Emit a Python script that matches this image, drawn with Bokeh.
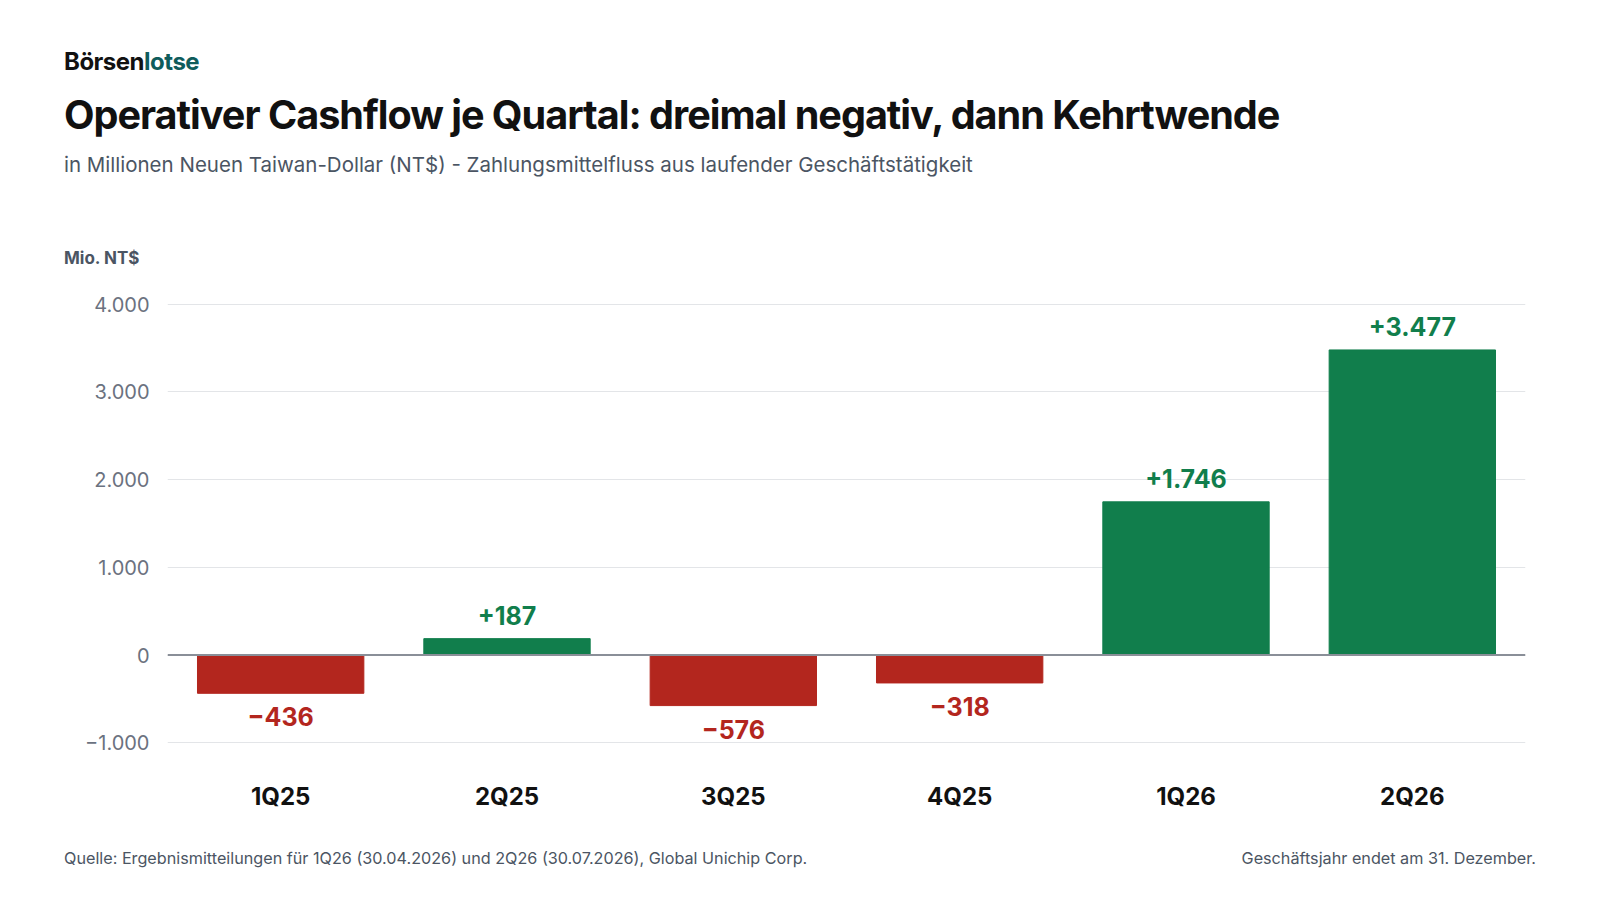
from bokeh.plotting import figure
from bokeh.models import Div, Span, ColumnDataSource, FixedTicker
from bokeh.layouts import column
from bokeh.core.properties import value
from bokeh.embed import file_html
from bokeh.resources import INLINE

quarters = ["1Q25", "2Q25", "3Q25", "4Q25", "1Q26", "2Q26"]
cashflow = [-436, 187, -576, -318, 1746, 3477]
labels = ["\u2212436", "+187", "\u2212576", "\u2212318", "+1.746", "+3.477"]
yticks = [-1000, 0, 1000, 2000, 3000, 4000]
ytick_labels = ["\u22121.000", "0", "1.000", "2.000", "3.000", "4.000"]

RED = "#b3261e"
GREEN = "#117e4c"
FONT = "Inter"

colors = [GREEN if v >= 0 else RED for v in cashflow]
offsets = [-14 if v >= 0 else 14 for v in cashflow]
baselines = ["bottom" if v >= 0 else "top" for v in cashflow]
src = ColumnDataSource(dict(q=quarters, v=cashflow, c=colors, t=labels, off=offsets, bl=baselines))

header = Div(width=1584, height=262, text=f"""
<div style="position:relative;width:1584px;height:262px;font-family:{FONT};">
 <div style="position:absolute;left:59px;top:40px;font-size:24px;font-weight:700;color:#111;letter-spacing:-0.5px;">Börsen<span style="color:#0f5c5c;">lotse</span></div>
 <div style="position:absolute;left:59px;top:82px;font-size:39.6px;font-weight:700;color:#111;letter-spacing:-1px;white-space:nowrap;">Operativer Cashflow je Quartal: dreimal negativ, dann Kehrtwende</div>
 <div style="position:absolute;left:59px;top:145px;font-size:20.5px;color:#4b5563;white-space:nowrap;">in Millionen Neuen Taiwan-Dollar (NT$) - Zahlungsmittelfluss aus laufender Geschäftstätigkeit</div>
 <div style="position:absolute;left:59px;top:241px;font-size:17px;font-weight:700;color:#4b5563;">Mio. NT$</div>
</div>""")

p = figure(x_range=quarters, y_range=(-1350, 4200), width=1584, height=561,
           output_backend="svg", toolbar_location=None,
           min_border_left=167, min_border_right=59, min_border_top=14, min_border_bottom=60)
p.outline_line_color = None
p.vbar(x="q", top="v", width=0.735, color="c", source=src)
p.text(x="q", y="v", text="t", text_color="c", y_offset="off", text_baseline="bl",
       text_align="center", text_font=value(FONT), text_font_size="25px",
       text_font_style="bold", source=src)
p.add_layout(Span(location=0, dimension="width", line_color="#8a8f98", line_width=2))

p.xgrid.grid_line_color = None
p.ygrid.grid_line_color = "#e3e5e8"
p.ygrid.ticker = FixedTicker(ticks=yticks)
p.yaxis.ticker = FixedTicker(ticks=yticks)
p.yaxis.major_label_overrides = dict(zip(yticks, ytick_labels))
for ax in (p.xaxis, p.yaxis):
    ax.axis_line_color = None
    ax.major_tick_line_color = None
    ax.minor_tick_line_color = None
    ax.major_label_text_font = FONT
p.yaxis.major_label_text_font_size = "20px"
p.yaxis.major_label_text_color = "#6b7280"
p.yaxis.major_label_standoff = 12
p.xaxis.major_label_text_font_size = "24px"
p.xaxis.major_label_text_font_style = "bold"
p.xaxis.major_label_text_color = "#111"
p.xaxis.major_label_standoff = 2

footer = Div(width=1584, height=50, text=f"""
<div style="position:relative;width:1584px;height:50px;font-family:{FONT};font-size:16.2px;color:#4b5563;">
 <div style="position:absolute;left:59px;top:9px;white-space:nowrap;">Quelle: Ergebnismitteilungen für 1Q26 (30.04.2026) und 2Q26 (30.07.2026), Global Unichip Corp.</div>
 <div style="position:absolute;right:53px;top:9px;white-space:nowrap;">Geschäftsjahr endet am 31. Dezember.</div>
</div>""")

layout = column(header, p, footer, spacing=0)
open("out.html", "w").write(file_html(layout, INLINE))
